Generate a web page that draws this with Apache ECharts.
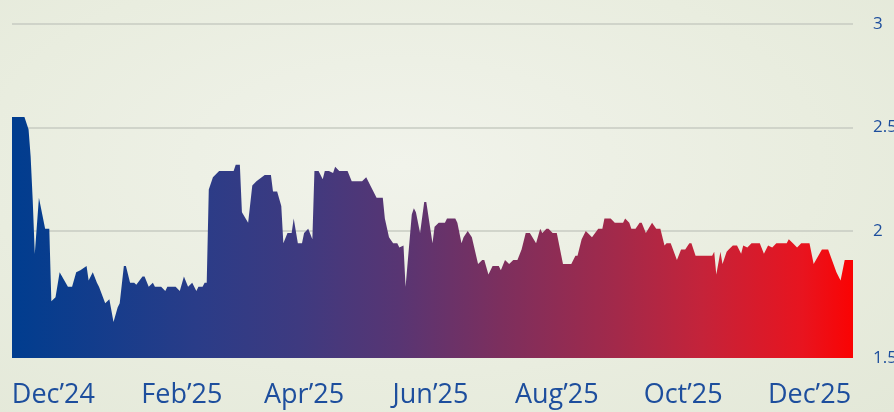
<!DOCTYPE html>
<html>
<head>
<meta charset="utf-8">
<script src="https://cdn.jsdelivr.net/npm/echarts@6/dist/echarts.min.js"></script>
<style>
  html, body { margin: 0; padding: 0; }
  body {
    width: 894px;
    height: 412px;
    background: radial-gradient(ellipse at 45% 40%, #f1f3eb 0%, #e9eddf 60%, #e3e8d8 100%);
  }
  #chart { width: 894px; height: 412px; }
</style>
</head>
<body>
<div id="chart"></div>
<script>
// days counted from 11 Nov 2024
const days = [
  0, 6, 8, 9, 10, 11, 13, 16, 18, 19, 21, 23, 27, 29, 31, 33, 36, 37, 39, 41,
  42, 45, 47, 49, 51, 52, 54, 55, 57, 59, 60, 63, 64, 66, 68, 69, 72, 74, 75, 79,
  81, 83, 85, 87, 89, 90, 92, 93, 94, 95, 97, 100, 107, 108, 110, 111, 114, 116, 118, 122,
  125, 126, 128, 130, 131, 133, 135, 136, 138, 140, 141, 143, 145, 146, 148, 150, 151, 153, 155, 156,
  158, 162, 164, 169, 171, 173, 176, 179, 180, 182, 184, 186, 187, 189, 190, 193, 194, 195, 197, 199,
  200, 203, 204, 206, 209, 210, 214, 215, 217, 218, 220, 222, 225, 227, 228, 230, 232, 235, 236, 238,
  240, 242, 244, 246, 248, 250, 253, 255, 256, 258, 259, 261, 263, 266, 270, 272, 273, 275, 277, 280,
  283, 285, 286, 289, 291, 295, 296, 298, 299, 301, 303, 304, 306, 309, 311, 313, 315, 316, 318, 321,
  323, 325, 327, 328, 330, 338, 339, 340, 342, 343, 345, 346, 348, 350, 352, 353, 355, 357, 361, 363,
  365, 367, 369, 374, 375, 377, 379, 381, 385, 387, 391, 394, 398, 400, 402, 406
];
const values = [
  2.55, 2.55, 2.49, 2.36, 2.15, 1.89, 2.16, 2.01, 2.01, 1.66, 1.68, 1.80, 1.73, 1.73, 1.80, 1.81, 1.83, 1.76, 1.80, 1.75,
  1.73, 1.65, 1.67, 1.56, 1.63, 1.65, 1.83, 1.83, 1.75, 1.75, 1.74, 1.78, 1.78, 1.73, 1.75, 1.73, 1.73, 1.71, 1.73, 1.73,
  1.71, 1.78, 1.73, 1.75, 1.71, 1.73, 1.73, 1.75, 1.75, 2.20, 2.26, 2.29, 2.29, 2.32, 2.32, 2.09, 2.04, 2.22, 2.24, 2.27,
  2.27, 2.19, 2.19, 2.12, 1.94, 1.99, 1.99, 2.06, 1.94, 1.94, 1.99, 2.01, 1.96, 2.29, 2.29, 2.25, 2.29, 2.29, 2.28, 2.31,
  2.29, 2.29, 2.24, 2.24, 2.26, 2.22, 2.16, 2.16, 2.06, 1.97, 1.94, 1.94, 1.92, 1.93, 1.73, 2.08, 2.11, 2.09, 1.99, 2.14,
  2.14, 1.94, 2.02, 2.04, 2.04, 2.06, 2.06, 2.04, 1.94, 1.97, 2.00, 1.97, 1.84, 1.86, 1.86, 1.79, 1.83, 1.83, 1.81, 1.86,
  1.84, 1.86, 1.86, 1.91, 1.99, 1.99, 1.94, 2.01, 1.99, 2.01, 2.01, 1.99, 1.99, 1.84, 1.84, 1.88, 1.88, 1.96, 2.00, 1.97,
  2.01, 2.01, 2.06, 2.06, 2.04, 2.04, 2.06, 2.04, 2.01, 2.01, 2.04, 2.04, 1.99, 2.04, 2.01, 2.01, 1.93, 1.94, 1.94, 1.86,
  1.91, 1.91, 1.94, 1.94, 1.88, 1.88, 1.90, 1.79, 1.90, 1.84, 1.90, 1.91, 1.93, 1.93, 1.89, 1.93, 1.92, 1.94, 1.94, 1.89,
  1.93, 1.92, 1.94, 1.94, 1.96, 1.94, 1.92, 1.94, 1.94, 1.84, 1.91, 1.91, 1.80, 1.76, 1.86, 1.86
];

// month labels (1st of month, same day count)
const monthDays = [20, 82, 141, 202, 263, 324, 385];
const monthLabels = ['Dec’24', 'Feb’25', 'Apr’25', 'Jun’25', 'Aug’25', 'Oct’25', 'Dec’25'];

const yTicks = [2, 2.5, 3];
const yBottomLabel = [1.5];

const chart = echarts.init(document.getElementById('chart'));

const labelColor = '#1d4e9d';

const yLabel = (vals) => ({
  customValues: vals,
  color: labelColor,
  fontFamily: 'Open Sans',
  fontSize: 17,
  align: 'left',
  margin: 20,
  hideOverlap: false
});

chart.setOption({
  animation: false,
  grid: { left: 12, right: 41, top: 24, bottom: 54, outerBoundsMode: 'none' },
  xAxis: {
    type: 'value',
    min: 0,
    max: 406,
    axisLine: { show: false },
    axisTick: { show: false },
    splitLine: { show: false },
    axisLabel: {
      customValues: monthDays,
      formatter: (v) => monthLabels[monthDays.indexOf(v)] || '',
      color: labelColor,
      fontFamily: 'Open Sans',
      fontSize: 27,
      margin: 24
    }
  },
  yAxis: [
    {
      type: 'value',
      position: 'right',
      min: 1.386,
      max: 3,
      axisLine: { show: false },
      axisTick: { show: false, customValues: yTicks },
      axisLabel: yLabel(yTicks),
      splitLine: { show: true, lineStyle: { color: '#c7cbc2', width: 1.5 } }
    },
    {
      // only carries the "1.5" label at the foot of the axis
      type: 'value',
      position: 'right',
      min: 1.5,
      max: 3,
      axisLine: { show: false },
      axisTick: { show: false, customValues: yBottomLabel },
      axisLabel: yLabel(yBottomLabel),
      splitLine: { show: false }
    }
  ],
  series: [{
    type: 'line',
    yAxisIndex: 0,
    data: days.map((d, i) => [d, values[i]]),
    showSymbol: false,
    lineStyle: { width: 0 },
    areaStyle: {
      origin: 'start',
      opacity: 1,
      color: new echarts.graphic.LinearGradient(0, 0, 1, 0, [
        { offset: 0, color: '#003d8f' },
        { offset: 0.22, color: '#2a3c88' },
        { offset: 0.34, color: '#3e3a80' },
        { offset: 0.46, color: '#583573' },
        { offset: 0.58, color: '#7c2f5e' },
        { offset: 0.72, color: '#a3294a' },
        { offset: 0.82, color: '#c4233a' },
        { offset: 0.94, color: '#e8141f' },
        { offset: 1, color: '#fa0303' }
      ])
    }
  }]
});
</script>
</body>
</html>
